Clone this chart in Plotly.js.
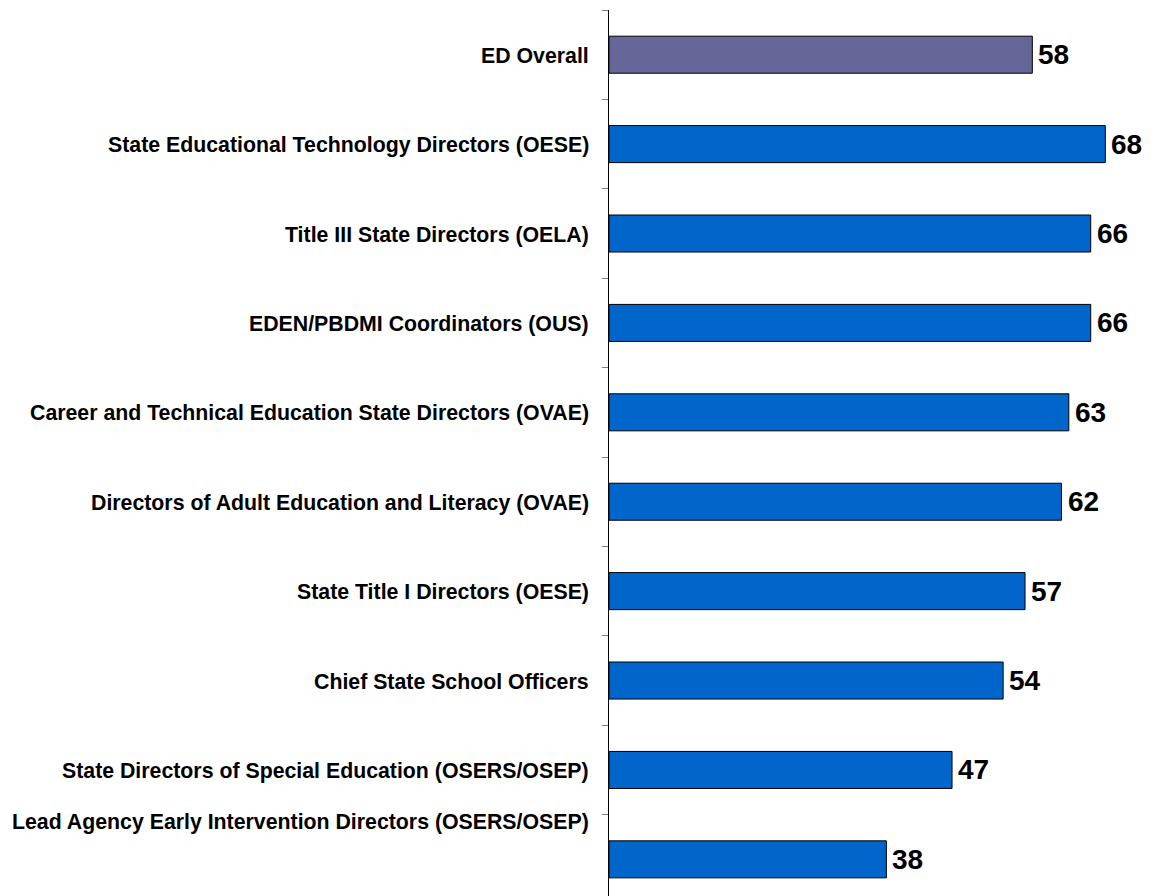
<!DOCTYPE html>
<html>
<head>
<meta charset="utf-8">
<script src="https://cdn.plot.ly/plotly-3.0.1.min.js"></script>
<style>html,body{margin:0;padding:0;background:#fff;}#chart{width:1171px;height:896px;}</style>
</head>
<body>
<div id="chart"></div>
<script>
const categories = [
  "ED Overall",
  "State Educational Technology Directors (OESE)",
  "Title III State Directors (OELA)",
  "EDEN/PBDMI Coordinators (OUS)",
  "Career and Technical Education State Directors (OVAE)",
  "Directors of Adult Education and Literacy (OVAE)",
  "State Title I Directors (OESE)",
  "Chief State School Officers",
  "State Directors of Special Education (OSERS/OSEP)",
  "Lead Agency Early Intervention Directors (OSERS/OSEP)"
];
const scores = [58, 68, 66, 66, 63, 62, 57, 54, 47, 38];

const OVERALL_COLOR = "#666699";
const BAR_COLOR = "#0066CC";
const FONT = "Liberation Sans, Arial, sans-serif";

const colors = categories.map(c => c === "ED Overall" ? OVERALL_COLOR : BAR_COLOR);

const trace = {
  type: "bar",
  orientation: "h",
  y: categories,
  x: scores,
  marker: { color: colors, line: { color: "#000000", width: 1 } },
  hoverinfo: "none"
};

const annotations = [];
categories.forEach((c, i) => {
  annotations.push({
    xref: "paper", yref: "y", x: 0, y: c,
    xanchor: "right", yanchor: "middle",
    xshift: -18, yshift: (i === categories.length - 1) ? 37 : -1,
    text: c, showarrow: false,
    font: { family: FONT, size: 21.3, color: "#000", weight: 700 }
  });
  annotations.push({
    xref: "x", yref: "y", x: scores[i], y: c,
    xanchor: "left", yanchor: "middle", xshift: 4,
    text: String(scores[i]), showarrow: false,
    font: { family: FONT, size: 28, color: "#000", weight: 700 }
  });
});

const layout = {
  width: 1171, height: 896,
  margin: { l: 609, r: 0, t: 10, b: 0, pad: 0 },
  paper_bgcolor: "#fff", plot_bgcolor: "#fff",
  showlegend: false,
  bargap: 0.586,
  xaxis: { range: [0, 77], showgrid: false, zeroline: false, showline: false, showticklabels: false, ticks: "" },
  yaxis: {
    type: "category",
    range: [9.41, -0.5],
    showgrid: false, zeroline: false,
    showline: true, linecolor: "#000", linewidth: 1,
    ticks: "outside", tickson: "boundaries", ticklen: 6, tickcolor: "#808080", tickwidth: 1,
    showticklabels: false
  },
  annotations: annotations
};

Plotly.newPlot("chart", [trace], layout, { staticPlot: true, displayModeBar: false });
</script>
</body>
</html>
